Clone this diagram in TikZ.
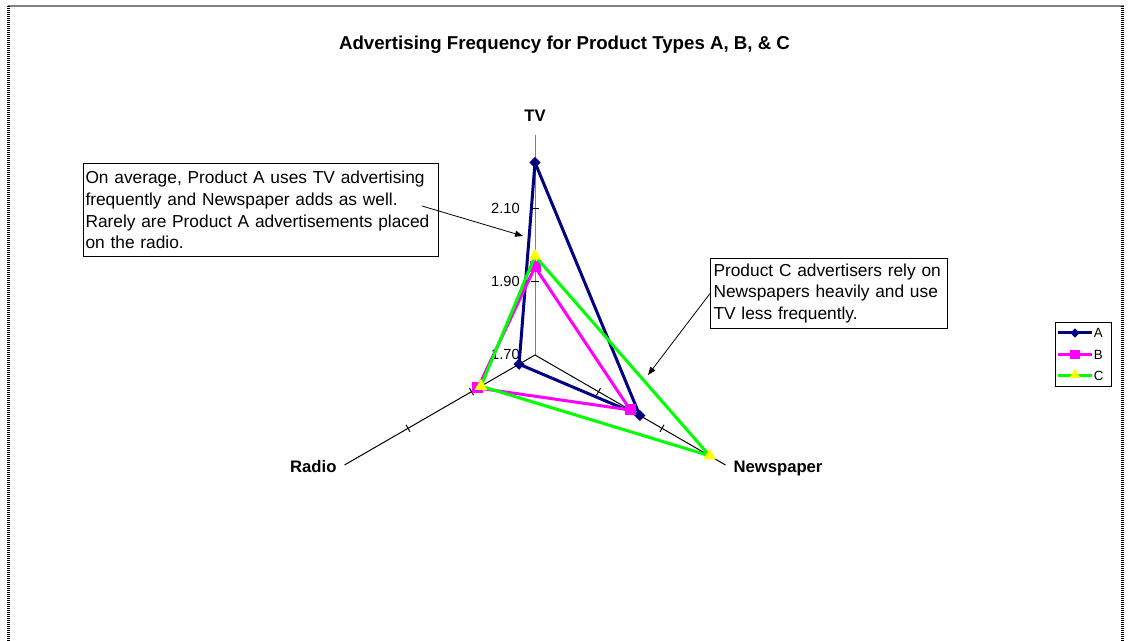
\documentclass[tikz,border=0pt]{standalone}
\usepackage{fontspec}
\setmainfont{Liberation Sans}
\usetikzlibrary{shapes.geometric,arrows.meta}
\definecolor{navyA}{RGB}{0,0,128}
\definecolor{magB}{RGB}{255,0,255}
\definecolor{grnC}{RGB}{0,255,0}
\definecolor{yelC}{RGB}{255,255,0}
\definecolor{axgrey}{RGB}{128,128,128}
\begin{document}
\begin{tikzpicture}[x=0.75pt,y=-0.75pt,
 series/.style={line width=2.25pt, line join=round},
 axisline/.style={line width=0.75pt},
 tickmark/.style={line width=0.75pt},
 mkA/.style={diamond, fill=navyA, inner sep=0pt, minimum width=8.5pt, minimum height=8.5pt},
 mkB/.style={rectangle, fill=magB, inner sep=0pt, minimum size=8.25pt},
 mkC/.style={regular polygon, regular polygon sides=3, fill=yelC, inner sep=0pt, minimum size=11pt},
 axlabel/.style={font=\bfseries\fontsize{12.5}{15}\selectfont, anchor=base, inner sep=0pt},
 ticklabel/.style={font=\fontsize{11}{13}\selectfont, anchor=base east, inner sep=0pt},
 callout/.style={draw=black, line width=0.75pt, fill=white, anchor=north west, align=left, inner ysep=0pt, font=\fontsize{13}{16.3}\selectfont},
 pointer/.style={-{Triangle[length=6pt,width=4.5pt]}, line width=0.6pt},
 legtext/.style={font=\fontsize{10}{12}\selectfont, anchor=west, inner sep=0pt},
]
\useasboundingbox (0,0) rectangle (1129,641);
% frame
\draw[axgrey, line width=1.5pt] (8,6.3) -- (1124,6.3);
\draw[black, line width=2pt, dash pattern=on 0.75pt off 0.75pt] (8.8,6) -- (8.8,641);
\draw[black, line width=2pt, dash pattern=on 0.75pt off 0.75pt] (1122.8,6) -- (1122.8,641);
% title
\node[font=\bfseries\fontsize{14}{16}\selectfont, anchor=base, inner sep=0pt] (title) at (564.5,50) {Advertising Frequency for Product Types A, B, \& C};
% axes
\coordinate (O) at (535,355);
\coordinate (TVend) at (535,135);
\coordinate (NPend) at (725.5,465);
\coordinate (RDend) at (344.5,465);
\draw[axisline, axgrey] (O) -- (TVend);
\draw[axisline] (O) -- (NPend);
\draw[axisline] (O) -- (RDend);
% ticks
\draw[tickmark] (531,281.7) -- (539,281.7);
\draw[tickmark] (531,208.3) -- (539,208.3);
\draw[tickmark] (596.5,395.2) -- (600.5,388.2);
\draw[tickmark] (660,431.8) -- (664,424.8);
\draw[tickmark] (473.5,395.2) -- (469.5,388.2);
\draw[tickmark] (410,431.8) -- (406,424.8);
% tick labels
\node[ticklabel] (t210) at (520,214) {2.10};
\node[ticklabel] (t190) at (520,286.7) {1.90};
\node[ticklabel] (t170) at (520,359.3) {1.70};
% axis labels
\node[axlabel] (lTV) at (535,121.5) {TV};
\node[axlabel] (lRD) at (313.3,472.7) {Radio};
\node[axlabel] (lNP) at (778,472.5) {Newspaper};
% data points
\coordinate (A1) at (535,162.5);
\coordinate (A2) at (639.8,415.5);
\coordinate (A3) at (519.1,364.2);
\coordinate (B1) at (535,267);
\coordinate (B2) at (630.3,410);
\coordinate (B3) at (477.8,388);
\coordinate (C1) at (535,256);
\coordinate (C2) at (709.7,455.8);
\coordinate (C3) at (481,386.2);
\draw[series, navyA] (A1) -- (A2) -- (A3) -- cycle;
\node[mkA] at (A1) {}; \node[mkA] at (A2) {}; \node[mkA] at (A3) {};
\draw[series, magB] (B1) -- (B2) -- (B3) -- cycle;
\node[mkB] at (B1) {}; \node[mkB] at (B2) {}; \node[mkB] at (B3) {};
\draw[series, grnC] (C1) -- (C2) -- (C3) -- cycle;
\node[mkC] at (C1) {}; \node[mkC] at (C2) {}; \node[mkC] at (C3) {};
% callouts
\node[callout, minimum width=266.25pt, minimum height=69.75pt, text width=263.25pt, inner xsep=1.5pt] (note1) at (83,163)
 {\mbox{On average, Product A uses TV advertising}\\\mbox{frequently and Newspaper adds as well.}\\\mbox{Rarely are Product A advertisements placed}\\\mbox{on the radio.}};
\node[callout, minimum width=177.75pt, minimum height=52.5pt, text width=173.25pt, inner xsep=2.25pt] (note2) at (710,258)
 {\mbox{Product C advertisers rely on}\\\mbox{Newspapers heavily and use}\\\mbox{TV less frequently.}};
\coordinate (p1s) at (422,206);
\coordinate (p1e) at (523,236);
\coordinate (p2e) at (648,375);
\draw[pointer] (p1s) -- (p1e);
\draw[pointer] (note2.west) -- (p2e);
% legend
\node[draw, line width=0.75pt, anchor=north west, minimum width=42pt, minimum height=48pt, inner sep=0pt] (legend) at (1055,322) {};
\draw[series, navyA] (1058,333) -- (1092,333);
\node[mkA, minimum width=7pt, minimum height=7pt] (legA) at (1075,333) {};
\node[legtext] (legAt) at (1093.5,333) {A};
\draw[series, magB] (1058,354.5) -- (1092,354.5);
\node[mkB, minimum size=7pt] (legB) at (1075,354.5) {};
\node[legtext] (legBt) at (1093.5,354.5) {B};
\draw[series, grnC] (1058,376) -- (1092,376);
\node[mkC, minimum size=9.5pt] (legC) at (1075,375) {};
\node[legtext] (legCt) at (1093.5,376) {C};
\end{tikzpicture}
\end{document}
